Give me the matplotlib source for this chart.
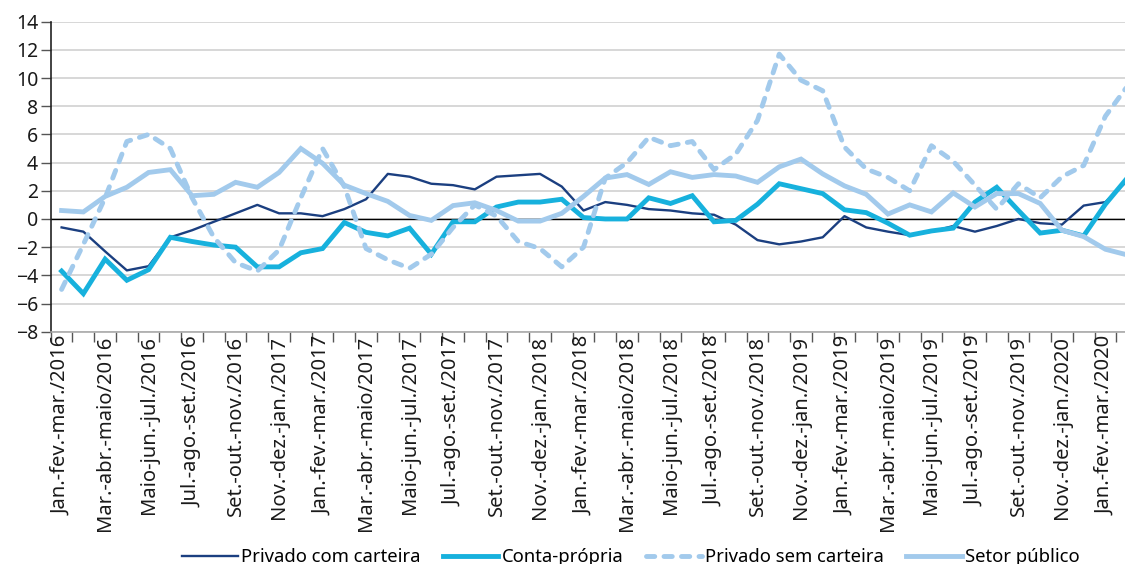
import numpy as np
import matplotlib
matplotlib.use("Agg")
from matplotlib import pyplot as plt

plt.rcParams['font.family'] = ['Noto Sans', 'DejaVu Sans']

# Quarterly moving periods, Jan-Mar 2016 .. Fev-Abr 2020 (last one cut at right edge)
tick_labels = ['Jan.-fev.-mar./2016', 'Mar.-abr.-maio/2016', 'Maio-jun.-jul./2016',
               'Jul.-ago.-set./2016', 'Set.-out.-nov./2016', 'Nov.-dez.-jan./2017',
               'Jan.-fev.-mar./2017', 'Mar.-abr.-maio/2017', 'Maio-jun.-jul./2017',
               'Jul.-ago.-set./2017', 'Set.-out.-nov./2017', 'Nov.-dez.-jan./2018',
               'Jan.-fev.-mar./2018', 'Mar.-abr.-maio/2018', 'Maio-jun.-jul./2018',
               'Jul.-ago.-set./2018', 'Set.-out.-nov./2018', 'Nov.-dez.-jan./2019',
               'Jan.-fev.-mar./2019', 'Mar.-abr.-maio/2019', 'Maio-jun.-jul./2019',
               'Jul.-ago.-set./2019', 'Set.-out.-nov./2019', 'Nov.-dez.-jan./2020',
               'Jan.-fev.-mar./2020']

com_carteira = [-0.6, -0.9, -2.3, -3.65, -3.35, -1.3, -0.8, -0.2, 0.4, 1.0,
                0.4, 0.4, 0.2, 0.7, 1.4, 3.2, 3.0, 2.5, 2.4, 2.1,
                3.0, 3.1, 3.2, 2.3, 0.6, 1.2, 1.0, 0.7, 0.6, 0.4,
                0.3, -0.4, -1.5, -1.8, -1.6, -1.3, 0.2, -0.6, -0.9, -1.15,
                -0.9, -0.5, -0.9, -0.5, 0.0, -0.3, -0.4, 0.95, 1.2, 2.7]

conta_propria = [-3.7, -5.3, -2.85, -4.35, -3.6, -1.3, -1.6, -1.85, -2.0, -3.4,
                 -3.4, -2.4, -2.1, -0.25, -0.95, -1.2, -0.65, -2.5, -0.2, -0.2,
                 0.85, 1.2, 1.2, 1.4, 0.1, 0.0, 0.0, 1.5, 1.1, 1.65,
                 -0.2, -0.1, 1.05, 2.5, 2.15, 1.8, 0.65, 0.45, -0.3, -1.15,
                 -0.85, -0.65, 1.2, 2.25, 0.6, -1.0, -0.8, -1.2, 1.05, 2.9]

sem_carteira = [-5.0, -1.8, 1.5, 5.5, 6.0, 5.0, 1.5, -1.3, -3.1, -3.7,
                -2.2, 1.5, 5.0, 2.3, -2.1, -2.9, -3.5, -2.5, -0.6, 1.0,
                0.2, -1.6, -2.1, -3.4, -2.0, 2.9, 4.0, 5.8, 5.2, 5.5,
                3.5, 4.6, 7.0, 11.7, 9.85, 9.1, 5.1, 3.55, 2.95, 2.0,
                5.2, 4.1, 2.4, 0.7, 2.5, 1.5, 3.0, 3.8, 7.3, 9.4]

setor_publico = [0.6, 0.5, 1.6, 2.25, 3.3, 3.5, 1.65, 1.75, 2.6, 2.25,
                 3.3, 5.0, 3.95, 2.4, 1.8, 1.25, 0.25, -0.1, 0.95, 1.15,
                 0.6, -0.15, -0.15, 0.4, 1.6, 2.9, 3.15, 2.45, 3.35, 2.95,
                 3.15, 3.05, 2.6, 3.7, 4.25, 3.2, 2.35, 1.75, 0.35, 1.0,
                 0.5, 1.85, 0.85, 1.8, 1.8, 1.1, -0.8, -1.25, -2.15, -2.55]

navy = '#1B3F80'
cyan = '#17B1DD'
light = '#A2CAEC'

x = np.arange(len(com_carteira))

fig = plt.figure(figsize=(11.25, 5.64), dpi=100)
# axes runs a bit past the right border, like the cropped original
ax = fig.add_axes([0.0451, 0.4119, 0.9665, 0.5496])

ax.set_ylim(-8, 14)
ax.set_xlim(-0.5, len(x) - 0.5)
ax.set_yticks(np.arange(-8, 15, 2))
ax.yaxis.grid(True, color='#d4d4d4', linewidth=1.3)
ax.set_axisbelow(True)
ax.axhline(0, color='black', linewidth=1.0, zorder=1.5)

ax.plot(x, com_carteira, color=navy, linewidth=1.7, label='Privado com carteira', zorder=3)
ax.plot(x, conta_propria, color=cyan, linewidth=3.5, label='Conta-própria',
        solid_joinstyle='miter', zorder=4)
ax.plot(x, sem_carteira, color=light, linewidth=3.5, label='Privado sem carteira',
        dashes=(1.7, 1.9), dash_capstyle='round', zorder=4)
ax.plot(x, setor_publico, color=light, linewidth=3.5, label='Setor público',
        solid_joinstyle='miter', zorder=4)

for s in ['top', 'right']:
    ax.spines[s].set_visible(False)
ax.spines['left'].set_color('#222222')
ax.spines['left'].set_linewidth(1.2)
ax.spines['bottom'].set_color('#aaaaaa')
ax.spines['bottom'].set_linewidth(1.2)

# tick marks between categories, labels on every other category
ax.set_xticks(np.arange(-0.5, len(x), 1.0))
ax.set_xticklabels([])
ax.tick_params(axis='x', which='major', length=7, width=1.0, color='#555555')
ax.set_xticks(x[::2][:len(tick_labels)], minor=True)
ax.set_xticklabels(tick_labels, minor=True, rotation=90, fontsize=14.5, color='#1a1a1a')
ax.tick_params(axis='x', which='minor', length=0, pad=3)
ax.tick_params(axis='y', length=7, width=1.0, color='#555555', labelsize=14,
               labelcolor='#1a1a1a', pad=2)

fig.legend(loc='center', bbox_to_anchor=(0.561, 0.012), ncol=4, frameon=False,
           fontsize=13.3, handlelength=3.0, handletextpad=0.2, columnspacing=1.2)

fig.savefig('out.png', dpi=100)
